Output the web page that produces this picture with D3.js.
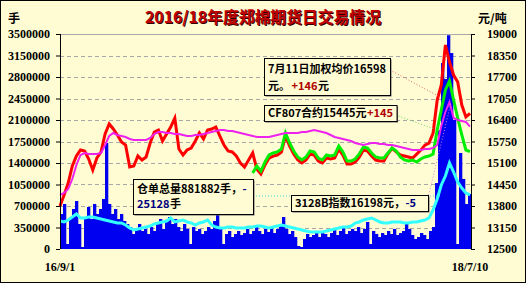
<!DOCTYPE html>
<html>
<head>
<meta charset="utf-8">
<script src="https://cdn.jsdelivr.net/npm/d3@7"></script>
<style>
  body { margin: 0; background: #fff; }
  svg text { font-family: "Liberation Serif", serif; font-weight: bold; }
  svg .cn { font-family: "Noto Sans CJK SC", sans-serif; font-weight: bold; }
</style>
</head>
<body>
<div class="visHolder"></div>
<script>
const w = 526;
const h = 283;

// axis ticks
const leftTicks = [0, 350000, 700000, 1050000, 1400000, 1750000, 2100000, 2450000, 2800000, 3150000, 3500000];
const rightTicks = [12500, 13150, 13800, 14450, 15100, 15750, 16400, 17050, 17700, 18350, 19000];
const dateLabels = ['16/9/1', '18/7/10'];

// 郑棉加权均价 (元/吨)
const avgPrice = [
  13800, 14133, 14495, 15009, 15312, 15493, 15463, 15221, 14888, 15251,
  15433, 15977, 16279, 16128, 15947, 15735, 15644, 14979, 15009, 15312,
  15191, 15281, 15705, 16037, 16098, 15765, 15977, 16188, 16460, 15523,
  15342, 15493, 15553, 15765, 16007, 15826, 16098, 16128, 16188, 15916,
  15644, 15463, 15433, 15312, 15100, 14979, 15191, 15402, 14920, 14770,
  15040, 15250, 15310, 15340, 15430, 15920, 15610, 15370, 15190, 15100,
  15190, 15370, 15340, 15160, 15100, 15250, 15220, 15250, 15520, 15340,
  15070, 15070, 15130, 15280, 15490, 15460, 15310, 15190, 15160, 15160,
  15380, 15540, 15440, 15340, 15310, 15280, 15250, 15370, 15490, 15640,
  15700, 16007, 17005, 17458, 18667, 18153, 17760, 17549, 16853, 16491,
  16598
];

// 3128B指数 (元/吨)
const indexPrice = [
  14133, 14193, 14314, 14616, 15040, 15342, 15402, 15372, 15372, 15372,
  15402, 15644, 15916, 16007, 15947, 15916, 15886, 15826, 15795, 15795,
  15795, 15795, 15856, 15977, 16037, 16037, 16007, 16007, 15977, 15977,
  15947, 15916, 15916, 15947, 15947, 15977, 16007, 16037, 16067, 16098,
  16098, 16067, 16067, 16037, 16007, 15977, 15947, 15916, 15886, 15886,
  15886, 15886, 15916, 15947, 15977, 16007, 16007, 16007, 16007, 16037,
  16037, 16067, 16098, 16067, 16037, 16007, 15947, 15886, 15856, 15826,
  15795, 15765, 15705, 15674, 15644, 15674, 15705, 15705, 15674, 15674,
  15644, 15644, 15614, 15584, 15553, 15523, 15493, 15493, 15493, 15523,
  15523, 15553, 15644, 16219, 16642, 16944, 16460, 16400, 16370, 16340,
  16198
];

// CF807合约 (元/吨), starts at sample 47
const cfStart = 47;
const cf807 = [
  14798, 15009, 14858, 15130, 15342, 15402, 15433, 15523, 16007, 15705,
  15463, 15281, 15191, 15281, 15463, 15433, 15251, 15191, 15342, 15312,
  15342, 15614, 15433, 15160, 15160, 15221, 15372, 15584, 15553, 15402,
  15281, 15251, 15251, 15402, 15553, 15463, 15281, 15191, 15160, 15191,
  15130, 15221, 15281, 15312, 15372, 16098, 16702, 17307, 17579, 17005,
  16460, 15947, 15493, 15445
];

// 仓单总量 (手)
const receipts = [
  456000, 440000, 472000, 521000, 570000, 505000, 505000, 521000, 521000, 505000,
  488000, 472000, 456000, 440000, 423000, 423000, 391000, 342000, 309000, 326000,
  342000, 358000, 374000, 407000, 423000, 440000, 456000, 505000, 440000, 456000,
  472000, 440000, 423000, 391000, 423000, 440000, 472000, 391000, 358000, 342000,
  342000, 358000, 358000, 342000, 342000, 342000, 358000, 358000, 374000, 374000,
  358000, 342000, 358000, 374000, 391000, 374000, 358000, 342000, 326000, 309000,
  293000, 277000, 277000, 277000, 277000, 293000, 309000, 326000, 342000, 358000,
  358000, 374000, 423000, 440000, 472000, 488000, 505000, 472000, 440000, 423000,
  423000, 440000, 440000, 440000, 423000, 423000, 440000, 440000, 456000, 472000,
  505000, 635000, 814000, 1042000, 1188000, 1400000, 1253000, 1091000, 993000, 912000,
  881882
];

// 成交量 (手)
const volume = [
  570000, 733000, 81000, 488000, 651000, 781000, 407000, 33000, 488000, 684000,
  488000, 733000, 570000, 651000, 814000, 1726000, 733000, 570000, 651000, 488000,
  570000, 456000, 407000, 358000, 244000, 326000, 407000, 293000, 326000, 244000,
  358000, 293000, 407000, 488000, 326000, 456000, 521000, 407000, 488000, 358000,
  293000, 407000, 326000, 81000, 358000, 293000, 326000, 244000, 293000, 358000,
  326000, 456000, 602000, 326000, 81000, 244000, 293000, 195000, 244000, 293000,
  228000, 260000, 326000, 244000, 293000, 358000, 293000, 244000, 326000, 277000,
  358000, 260000, 326000, 407000, 521000, 326000, 244000, 293000, 195000, 49000,
  33000, 163000, 244000, 195000, 228000, 260000, 195000, 293000, 244000, 195000,
  260000, 326000, 228000, 293000, 358000, 244000, 293000, 326000, 293000, 358000,
  260000, 326000, 440000, 81000, 293000, 244000, 195000, 260000, 228000, 293000,
  244000, 326000, 228000, 260000, 293000, 423000, 326000, 228000, 163000, 195000,
  260000, 228000, 163000, 293000, 358000, 1074000, 1937000, 3028000, 2767000, 3480000,
  3190000, 2100000, 81000, 1563000, 1140000, 733000, 895000
];

const bg = '#fffbd2';
const plotL = 60, plotR = 471, plotT = 34, plotB = 249;

const svg = d3.select('.visHolder')
  .append('svg')
  .attr('width', w)
  .attr('height', h);

svg.append('rect')
  .attr('x', 0.5).attr('y', 0.5)
  .attr('width', w - 1).attr('height', h - 1)
  .style('fill', bg)
  .style('stroke', '#000');

const yLeft = d3.scaleLinear().domain([0, 3500000]).range([plotB, plotT]);
const yRight = d3.scaleLinear().domain([12500, 19000]).range([plotB, plotT]);
const xLine = d3.scaleLinear().domain([0, avgPrice.length - 1]).range([plotL, plotR - 1]);
const xBar = d3.scaleBand().domain(d3.range(volume.length)).range([plotL, plotR]).padding(0);

// grid
svg.append('g')
  .selectAll('line')
  .data(leftTicks.slice(1))
  .enter()
  .append('line')
  .attr('x1', plotL).attr('x2', plotR)
  .attr('y1', d => Math.round(yLeft(d)) + 0.5)
  .attr('y2', d => Math.round(yLeft(d)) + 0.5)
  .style('stroke', '#a8a8a8')
  .style('stroke-dasharray', d => d === 3500000 ? null : '4,3');

// volume bars
svg.append('g')
  .selectAll('rect')
  .data(volume)
  .enter()
  .append('rect')
  .attr('x', (d, i) => xBar(i))
  .attr('width', xBar.bandwidth() + 0.3)
  .attr('y', d => yLeft(d))
  .attr('height', d => plotB - yLeft(d))
  .style('fill', '#0000f0');

const lineL = d3.line().x((d, i) => xLine(i)).y(d => yLeft(d));
const lineR = d3.line().x((d, i) => xLine(i)).y(d => yRight(d));

svg.append('path').datum(receipts).attr('d', lineL)
  .style('fill', 'none').style('stroke', '#33ffff').style('stroke-width', 3);
svg.append('path').datum(avgPrice).attr('d', lineR)
  .style('fill', 'none').style('stroke', '#ff0000').style('stroke-width', 3);
svg.append('path').datum(cf807)
  .attr('d', d3.line().x((d, i) => xLine(i + cfStart)).y(d => yRight(d)))
  .style('fill', 'none').style('stroke', '#00ee00').style('stroke-width', 3);
svg.append('path').datum(indexPrice).attr('d', lineR)
  .style('fill', 'none').style('stroke', '#ee22ee').style('stroke-width', 2);

// axes
const axL = svg.append('g')
  .attr('transform', 'translate(' + plotL + ',0)')
  .call(d3.axisLeft(yLeft).tickValues(leftTicks).tickSize(4).tickPadding(6).tickFormat(d3.format('d')));
const axR = svg.append('g')
  .attr('transform', 'translate(' + plotR + ',0)')
  .call(d3.axisRight(yRight).tickValues(rightTicks).tickSize(4).tickPadding(12).tickFormat(d3.format('d')));
[axL, axR].forEach(a => {
  a.select('.domain').attr('d', 'M0.5,' + plotT + 'V' + plotB);
  a.selectAll('text').style('font-size', '12px').style('fill', '#000');
});

// date labels at the two ends
svg.append('g')
  .selectAll('text')
  .data(dateLabels)
  .enter()
  .append('text')
  .attr('x', (d, i) => xLine(i === 0 ? 0 : avgPrice.length - 1))
  .attr('y', 271)
  .attr('text-anchor', 'middle')
  .style('font-size', '12px')
  .text(d => d);

// unit labels and title
svg.append('text').attr('class', 'cn').attr('x', 8).attr('y', 23).style('font-size', '12px').text('手');
svg.append('text').attr('class', 'cn').attr('x', 478).attr('y', 23).style('font-size', '12px').text('元/吨');
svg.append('text').attr('class', 'cn')
  .attr('x', 264).attr('y', 24).attr('text-anchor', 'middle')
  .attr('textLength', 236).attr('lengthAdjust', 'spacingAndGlyphs')
  .style('font-size', '16px').style('fill', '#300000')
  .text('2016/18年度郑棉期货日交易情况');
svg.append('text').attr('class', 'cn')
  .attr('x', 263).attr('y', 23).attr('text-anchor', 'middle')
  .attr('textLength', 236).attr('lengthAdjust', 'spacingAndGlyphs')
  .style('font-size', '16px').style('fill', '#c00000')
  .text('2016/18年度郑棉期货日交易情况');

// leader lines
const leaders = [
  [[390, 70], [440, 97], '#e06868'],
  [[390, 113], [440, 131], '#66dd66'],
  [[253, 196], [440, 196], '#44dddd'],
  [[428, 198], [451, 103], '#e080e0']
];
leaders.forEach(l => {
  svg.append('line')
    .attr('x1', l[0][0]).attr('y1', l[0][1])
    .attr('x2', l[1][0]).attr('y2', l[1][1])
    .style('stroke', l[2]).style('stroke-width', 1).style('stroke-dasharray', '1,2');
});

// annotation boxes; pieces of one line are laid out one after another
function note(x, y, bw, bh, lines) {
  const g = svg.append('g');
  const shadow = g.append('rect').attr('x', x + 1.5).attr('y', y + 1.5).attr('height', bh)
    .style('fill', '#666');
  const box = g.append('rect').attr('x', x + 0.5).attr('y', y + 0.5).attr('height', bh)
    .style('fill', bg).style('stroke', '#000');
  let maxX = x + bw;
  lines.forEach(ln => {
    let cx = x + 4;
    ln.parts.forEach(p => {
      cx += p[2] || 0;
      const t = g.append('text').attr('class', 'cn')
        .attr('x', cx).attr('y', ln.y)
        .style('font-size', '11px')
        .style('fill', p[1])
        .text(p[0]);
      cx += t.node().getComputedTextLength() + 0.5;
    });
    maxX = Math.max(maxX, cx + 3);
  });
  shadow.attr('width', maxX - x);
  box.attr('width', maxX - x);
}

note(264, 58, 126, 37, [
  { y: 73, parts: [['7月11日加权均价16598', '#000']] },
  { y: 90, parts: [['元。', '#000'], ['+146', '#b00000', 1], ['元', '#000']] }
]);
note(264, 105, 126, 16, [
  { y: 117, parts: [['CF807合约15445元', '#000'], ['+145', '#b00000']] }
]);
note(133, 179, 120, 35, [
  { y: 193, parts: [['仓单总量881882手，', '#000'], ['-', '#000080']] },
  { y: 208, parts: [['25128', '#000080'], ['手', '#000']] }
]);
note(291, 195, 137, 16, [
  { y: 207, parts: [['3128B指数16198元，', '#000'], ['-5', '#000080']] }
]);
</script>
</body>
</html>
